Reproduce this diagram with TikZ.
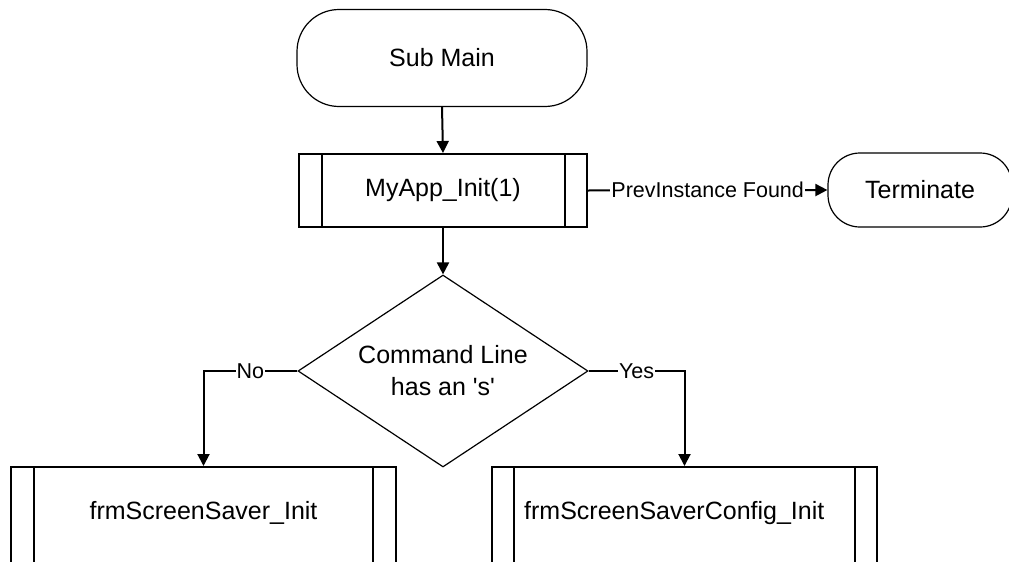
\documentclass[tikz,border=0pt]{standalone}
\usepackage{fontspec}
\setmainfont{Liberation Sans}
\usetikzlibrary{shapes.geometric,arrows.meta}
\begin{document}
\begin{tikzpicture}[x=1pt,y=-1pt,
  txt/.style={font=\fontsize{25}{32}\selectfont},
  term/.style={draw,line width=1.2pt,txt},
  proc/.style={draw,line width=2pt,inner sep=0pt},
  decision/.style={draw,shape=diamond,line width=1.2pt,aspect=1.5,inner sep=0pt,minimum width=290pt,minimum height=192pt,align=center,txt},
  lbl/.style={fill=white,inner sep=1pt,font=\fontsize{21.5}{26}\selectfont},
  conn/.style={line width=2pt,-{Triangle[length=12pt,width=12pt]}},
  plain/.style={line width=2pt}
]
\clip (0,0) rectangle (1009,562);
\fill[white] (0,0) rectangle (1009,562);

% Sub Main terminator
\node[term,rounded corners=42pt,minimum width=290pt,minimum height=97pt] (sub) at (442,58) {Sub Main};

% MyApp_Init(1) predefined process
\node[proc,txt,minimum width=288pt,minimum height=73pt] (app) at (443,190.5) {MyApp\_Init(1)};
\draw[plain] ([xshift=24pt]app.north west) -- ([xshift=24pt]app.south west);
\draw[plain] ([xshift=-23pt]app.north east) -- ([xshift=-23pt]app.south east);

% Terminate
\node[term,rounded corners=32pt,minimum width=184pt,minimum height=74pt] (ter) at (920,190) {Terminate};

% Decision
\node[decision] (dec) at (443,371) {Command Line\\has an \textquotesingle s\textquotesingle};

% Bottom left box
\node[proc,anchor=north,minimum width=385pt,minimum height=130pt] (bl) at (203.5,466) {};
\draw[plain] ([xshift=24pt]bl.north west) -- ([xshift=24pt]bl.south west);
\draw[plain] ([xshift=-24pt]bl.north east) -- ([xshift=-24pt]bl.south east);
\node[txt,inner sep=0pt] (blt) at (203.5,513) {frmScreenSaver\_Init};

% Bottom right box
\node[proc,anchor=north,minimum width=385pt,minimum height=130pt] (br) at (684.5,466) {};
\draw[plain] ([xshift=23pt]br.north west) -- ([xshift=23pt]br.south west);
\draw[plain] ([xshift=-23pt]br.north east) -- ([xshift=-23pt]br.south east);
\node[txt,inner sep=0pt,anchor=west] (brt) at (524,513) {frmScreenSaverConfig\_Init};

% Connectors
\draw[conn] (sub.south) -- (app.north);
\draw[conn] (app.south) -- (dec.north);
\draw[conn] (app.east) -- node[lbl] {PrevInstance Found} (ter.west);
\draw[conn] (dec.west) -| node[lbl,pos=0.25] {No} (bl.north);
\draw[conn] (dec.east) -| node[lbl,pos=0.25] {Yes} (br.north);
\end{tikzpicture}
\end{document}
